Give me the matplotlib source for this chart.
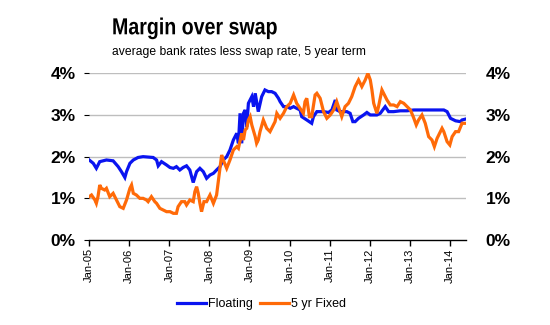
import matplotlib
matplotlib.use("Agg")
import matplotlib.pyplot as plt
import pandas as pd
from matplotlib.textpath import TextPath
from matplotlib.patches import PathPatch
from matplotlib.font_manager import FontProperties
from matplotlib.transforms import Affine2D

# Floating-rate margin over swap (%)
floating_dates = [
    "2005-01-01", "2005-02-07", "2005-03-07", "2005-04-07", "2005-06-07", "2005-08-07",
    "2005-09-22", "2005-10-22", "2005-11-22", "2005-12-07", "2006-01-07", "2006-02-07",
    "2006-03-22", "2006-05-07", "2006-08-07", "2006-09-07", "2006-09-22", "2006-10-22",
    "2006-12-07", "2007-01-07", "2007-02-07", "2007-03-07", "2007-04-07", "2007-05-07",
    "2007-06-07", "2007-07-07", "2007-08-07", "2007-09-07", "2007-10-07", "2007-11-07",
    "2007-12-07", "2008-01-07", "2008-02-07", "2008-03-07", "2008-04-07", "2008-05-07",
    "2008-06-07", "2008-07-07", "2008-08-07", "2008-09-07", "2008-09-22", "2008-10-07",
    "2008-10-22", "2008-11-07", "2008-11-22", "2008-12-07", "2008-12-22", "2009-01-22",
    "2009-02-07", "2009-02-22", "2009-03-22", "2009-04-22", "2009-05-22", "2009-06-22",
    "2009-07-22", "2009-08-22", "2009-09-22", "2009-10-07", "2009-11-07", "2009-12-07",
    "2010-01-07", "2010-02-07", "2010-03-07", "2010-04-07", "2010-04-22", "2010-06-07",
    "2010-07-22", "2010-08-07", "2010-09-07", "2010-11-07", "2010-12-22", "2011-01-22",
    "2011-02-22", "2011-03-07", "2011-04-07", "2011-06-07", "2011-07-07", "2011-08-01",
    "2011-08-22", "2011-09-22", "2011-11-07", "2011-12-07", "2012-01-07", "2012-02-07",
    "2012-03-07", "2012-04-07", "2012-05-22", "2012-06-22", "2012-08-07", "2012-10-07",
    "2012-12-07", "2013-02-07", "2013-05-07", "2013-08-07", "2013-11-07", "2013-12-07",
    "2014-01-07", "2014-02-22", "2014-04-07", "2014-04-22", "2014-05-22",
]
floating_values = [
    1.92, 1.84, 1.72, 1.88, 1.92, 1.90,
    1.76, 1.64, 1.50, 1.64, 1.84, 1.92,
    1.98, 2.00, 1.98, 1.92, 1.78, 1.88,
    1.80, 1.74, 1.72, 1.76, 1.68, 1.74,
    1.78, 1.68, 1.38, 1.64, 1.72, 1.64,
    1.48, 1.56, 1.60, 1.68, 1.76, 1.92,
    2.00, 2.16, 2.40, 2.56, 2.32, 3.04,
    2.32, 3.04, 3.12, 2.72, 3.28, 3.44,
    3.20, 3.52, 3.08, 3.44, 3.60, 3.56,
    3.56, 3.52, 3.40, 3.32, 3.20, 3.20,
    3.16, 3.20, 3.16, 3.12, 2.96, 2.88,
    2.80, 2.96, 3.08, 3.08, 3.06, 3.12,
    3.36, 3.12, 3.08, 3.08, 3.04, 2.84,
    2.84, 2.92, 3.00, 3.06, 3.00, 3.00,
    3.00, 3.04, 3.20, 3.08, 3.08, 3.10,
    3.10, 3.12, 3.12, 3.12, 3.12, 3.08,
    2.92, 2.86, 2.84, 2.88, 2.90,
]

# 5-year fixed-rate margin over swap (%)
fixed_dates = [
    "2005-01-01", "2005-01-22", "2005-02-22", "2005-03-07", "2005-03-22", "2005-04-07",
    "2005-04-22", "2005-05-22", "2005-06-07", "2005-07-07", "2005-08-07", "2005-09-07",
    "2005-10-07", "2005-11-07", "2005-12-07", "2006-01-07", "2006-01-22", "2006-02-07",
    "2006-03-07", "2006-04-07", "2006-05-07", "2006-06-07", "2006-06-22", "2006-07-22",
    "2006-08-22", "2006-09-07", "2006-10-07", "2006-11-07", "2006-12-07", "2007-01-07",
    "2007-02-07", "2007-03-07", "2007-03-22", "2007-04-22", "2007-05-22", "2007-06-07",
    "2007-07-07", "2007-08-07", "2007-08-22", "2007-09-07", "2007-09-22", "2007-10-07",
    "2007-10-22", "2007-11-13", "2007-12-07", "2008-01-07", "2008-02-07", "2008-03-07",
    "2008-03-22", "2008-04-07", "2008-04-22", "2008-05-07", "2008-06-07", "2008-07-07",
    "2008-08-07", "2008-09-07", "2008-09-22", "2008-10-22", "2008-11-07", "2008-11-22",
    "2008-12-07", "2008-12-22", "2009-01-07", "2009-01-22", "2009-02-22", "2009-03-07",
    "2009-03-22", "2009-04-07", "2009-05-07", "2009-06-07", "2009-07-07", "2009-07-22",
    "2009-08-22", "2009-09-07", "2009-10-07", "2009-11-07", "2009-12-07", "2010-01-07",
    "2010-02-07", "2010-03-07", "2010-04-07", "2010-05-07", "2010-05-22", "2010-06-07",
    "2010-07-01", "2010-07-22", "2010-08-22", "2010-09-07", "2010-10-07", "2010-11-07",
    "2010-12-07", "2011-01-07", "2011-02-07", "2011-03-07", "2011-04-07", "2011-04-22",
    "2011-05-22", "2011-06-22", "2011-07-22", "2011-08-22", "2011-09-22", "2011-10-22",
    "2011-11-22", "2011-12-16", "2012-01-07", "2012-01-22", "2012-02-07", "2012-03-07",
    "2012-03-22", "2012-04-22", "2012-05-07", "2012-06-07", "2012-07-07", "2012-08-07",
    "2012-09-07", "2012-10-07", "2012-11-07", "2012-12-07", "2013-01-07", "2013-02-07",
    "2013-03-01", "2013-03-22", "2013-04-22", "2013-05-22", "2013-06-22", "2013-07-22",
    "2013-08-13", "2013-09-07", "2013-10-07", "2013-10-22", "2013-11-07", "2013-12-07",
    "2014-01-01", "2014-01-22", "2014-02-22", "2014-03-22", "2014-04-22", "2014-05-22",
]
fixed_values = [
    1.04, 1.08, 0.96, 0.88, 1.04, 1.32,
    1.24, 1.20, 1.24, 1.04, 1.12, 0.96,
    0.80, 0.76, 0.96, 1.24, 1.32, 1.12,
    1.08, 1.00, 1.00, 0.96, 0.92, 1.04,
    0.92, 0.88, 0.76, 0.72, 0.68, 0.68,
    0.64, 0.64, 0.80, 0.92, 0.92, 0.84,
    0.96, 0.92, 1.16, 1.28, 1.12, 0.88,
    0.68, 0.92, 0.92, 1.08, 0.88, 1.08,
    1.40, 1.76, 2.04, 1.92, 1.72, 1.92,
    2.16, 2.24, 2.20, 2.56, 2.40, 2.64,
    2.68, 2.88, 2.96, 2.76, 2.48, 2.32,
    2.40, 2.60, 2.88, 2.68, 2.60, 2.68,
    2.84, 3.04, 2.92, 3.04, 3.20, 3.28,
    3.48, 3.28, 3.16, 3.04, 3.32, 3.40,
    2.96, 2.96, 3.48, 3.52, 3.40, 3.08,
    2.92, 3.00, 3.12, 3.32, 3.08, 2.96,
    3.20, 3.28, 3.44, 3.68, 3.84, 3.68,
    3.84, 4.00, 3.84, 3.60, 3.28, 3.04,
    3.20, 3.60, 3.52, 3.36, 3.24, 3.24,
    3.20, 3.32, 3.28, 3.20, 3.12, 2.92,
    2.76, 2.88, 3.00, 2.80, 2.48, 2.40,
    2.24, 2.44, 2.60, 2.68, 2.60, 2.36,
    2.28, 2.48, 2.60, 2.60, 2.80, 2.80,
]

y_ticks = [0, 1, 2, 3, 4]
y_tick_labels = ["0%", "1%", "2%", "3%", "4%"]
x_tick_dates = ["2005-01-01", "2006-01-01", "2007-01-01", "2008-01-01", "2009-01-01",
                "2010-01-01", "2011-01-01", "2012-01-01", "2013-01-01", "2014-01-01"]
x_tick_labels = ["Jan-05", "Jan-06", "Jan-07", "Jan-08", "Jan-09",
                 "Jan-10", "Jan-11", "Jan-12", "Jan-13", "Jan-14"]

title_text = "Margin over swap"
subtitle_text = "average bank rates less swap rate, 5 year term"

plt.rcParams["font.family"] = ["Liberation Sans", "DejaVu Sans"]

DPI = 100
fig = plt.figure(figsize=(5.5, 3.25), dpi=DPI)
ax = fig.add_axes([0.1618, 0.2615, 0.6846, 0.513])

fd = pd.to_datetime(floating_dates)
xd = pd.to_datetime(fixed_dates)

ax.plot(fd, floating_values, color="#0A14F0", lw=2.3, solid_joinstyle="miter",
        label="Floating", zorder=3)
ax.plot(xd, fixed_values, color="#FF6A08", lw=2.3, solid_joinstyle="miter",
        label="5 yr Fixed", zorder=4)

ax.set_ylim(0, 4)
ax.set_xlim(pd.Timestamp("2004-12-30"), pd.Timestamp("2014-05-24"))

for v in y_ticks[1:]:
    ax.axhline(v, color="#BEBEBE", lw=1.0, zorder=1)

for s in ["left", "right", "top"]:
    ax.spines[s].set_visible(False)
ax.spines["bottom"].set_color("black")
ax.spines["bottom"].set_linewidth(1.0)
ax.spines["bottom"].set_zorder(5)

ax.set_yticks(y_ticks)
ax.set_yticklabels(y_tick_labels, fontsize=12.5, fontweight="bold")
ax.tick_params(axis="y", left=False, pad=6)

ax.set_xticks(pd.to_datetime(x_tick_dates))
ax.set_xticklabels(x_tick_labels, rotation=90, fontsize=8)
ax.tick_params(axis="x", direction="out", length=4, width=1, pad=2)

ax2 = ax.twinx()
ax2.set_ylim(0, 4)
for s in ["left", "right", "top", "bottom"]:
    ax2.spines[s].set_visible(False)
ax2.set_yticks(y_ticks)
ax2.set_yticklabels(y_tick_labels, fontsize=12.5, fontweight="bold")
ax2.tick_params(axis="y", right=False, pad=11)

# Condensed bold title drawn as a horizontally squeezed text path (pixel coords)
title_fp = FontProperties(family="Liberation Sans", weight="bold")
title_path = TextPath((0, 0), title_text, size=16.7, prop=title_fp)
px = DPI / 72.0
fig_h = 3.25 * DPI
title_tf = Affine2D().scale(0.845 * px, px).translate(112, fig_h - 34.3)
fig.add_artist(PathPatch(title_path, transform=title_tf, facecolor="black",
                         edgecolor="none", lw=0))

fig.text(112 / 550, 1 - 54.5 / 325, subtitle_text, fontsize=8.7,
         ha="left", va="baseline")

handles, labels = ax.get_legend_handles_labels()
fig.legend(handles, labels, loc="center", bbox_to_anchor=(0.4755, 0.064), ncol=2,
           frameon=False, fontsize=9, handlelength=2.3, handletextpad=0.15,
           columnspacing=0.6, borderpad=0.2)

fig.savefig("out.png", dpi=DPI)
